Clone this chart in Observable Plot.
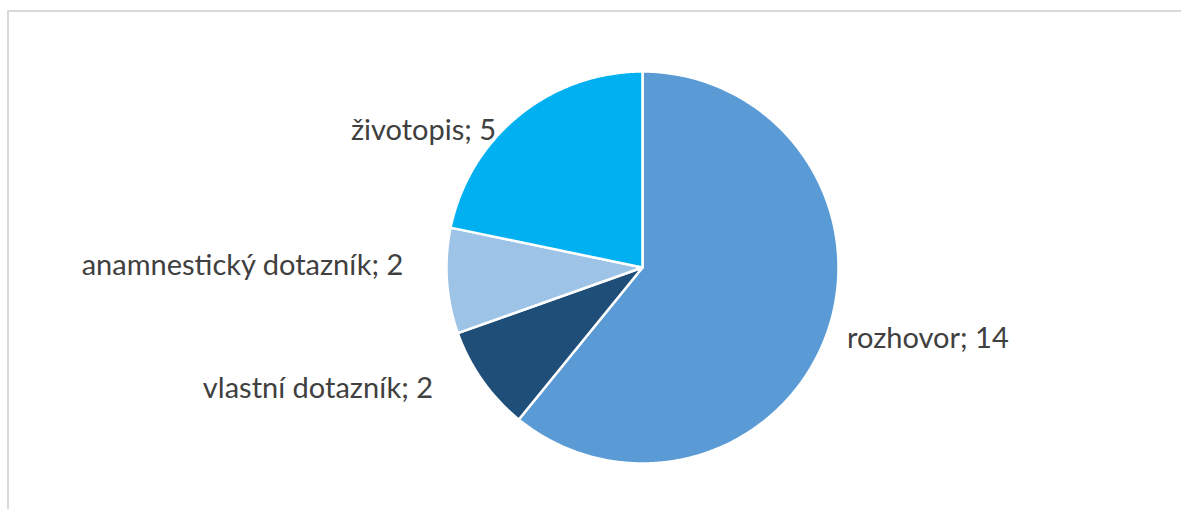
<!DOCTYPE html>
<html><head><meta charset="utf-8">
<script src="https://cdn.jsdelivr.net/npm/d3@7"></script>
<script src="https://cdn.jsdelivr.net/npm/@observablehq/plot@0.6"></script>
<style>
html,body{margin:0;padding:0;background:#fff;overflow:hidden}
#wrap{position:relative;width:1181px;height:509px;overflow:hidden}
#chart{position:absolute;left:0;top:0}
#frame{position:absolute;left:7px;top:10px;width:1300px;height:700px;border-top:2px solid #d9d9d9;border-left:2px solid #d9d9d9;box-sizing:border-box;pointer-events:none}
</style></head><body>
<div id="wrap"><div id="chart"></div><div id="frame"></div></div>
<script>
// ---- data ----
const categories = ["rozhovor", "vlastní dotazník", "anamnestický dotazník", "životopis"];
const values = [14, 2, 2, 5];
// ---- style ----
const palette = ["#5B9BD5", "#1F4E79", "#9DC3E6", "#00B0F0"];

const rows = categories.map((c, i) => ({label: c, value: values[i]}));
const slices = d3.pie().sort(null).value(d => d.value)(rows);

// slice outlines (unit circle, clockwise from 12 o'clock)
const pts = [];
for (const s of slices) {
  const lab = s.data.label;
  pts.push({label: lab, x: 0, y: 0});
  const n = Math.max(2, Math.ceil((s.endAngle - s.startAngle) / (Math.PI / 360)));
  for (let k = 0; k <= n; k++) {
    const a = s.startAngle + (s.endAngle - s.startAngle) * k / n;
    pts.push({label: lab, x: Math.sin(a), y: Math.cos(a)});
  }
  pts.push({label: lab, x: 0, y: 0});
}

const labels = slices.map(s => {
  const a = (s.startAngle + s.endAngle) / 2;
  return {label: s.data.label, text: `${s.data.label}; ${s.data.value}`,
          x: 1.07 * Math.sin(a), y: 1.07 * Math.cos(a)};
});

// per-label placement nudges (pixels), mimicking Excel's best-fit layout
const nudge = {
  "rozhovor": {dx: 7, dy: 1, anchor: "start"},
  "vlastní dotazník": {dx: -38, dy: 0, anchor: "end"},
  "anamnestický dotazník": {dx: -30, dy: -16, anchor: "end"},
  "životopis": {dx: -14, dy: 26, anchor: "end"}
};

const textMarks = labels.map(l => Plot.text([l], {
  x: "x", y: "y", text: "text",
  textAnchor: nudge[l.label].anchor,
  dx: nudge[l.label].dx, dy: nudge[l.label].dy,
  fill: "#404040", fontSize: 29
}));

const chart = Plot.plot({
  width: 1181, height: 509,
  marginLeft: 446, marginRight: 343, marginTop: 71, marginBottom: 46,
  x: {domain: [-1, 1], axis: null},
  y: {domain: [-1, 1], axis: null},
  color: {domain: categories, range: palette},
  style: {fontFamily: "Lato, 'Open Sans', sans-serif", background: "white"},
  marks: [
    Plot.line(pts, {x: "x", y: "y", z: "label", fill: "label", stroke: "white", strokeWidth: 2.5, strokeLinejoin: "round"}),
    ...textMarks
  ]
});
document.getElementById("chart").appendChild(chart);
</script>
</body></html>
